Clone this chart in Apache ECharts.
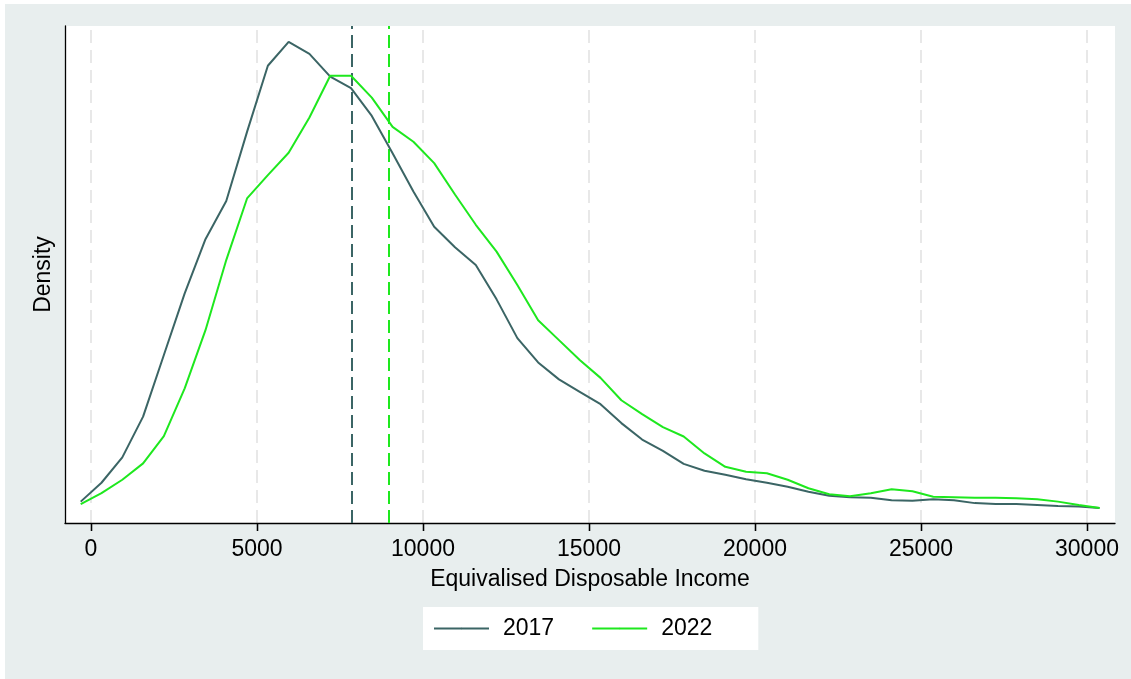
<!DOCTYPE html>
<html>
<head>
<meta charset="utf-8">
<script src="https://cdn.jsdelivr.net/npm/echarts@6/dist/echarts.min.js"></script>
<style>
  html, body { margin: 0; padding: 0; background: #ffffff; }
  #chart { position: absolute; left: 5px; top: 4px; width: 1126px; height: 675px; }
</style>
</head>
<body>
<div id="chart"></div>
<script>
// Income grid (x positions of the density estimate points)
const incomeGrid = [-310, 316, 943, 1569, 2195, 2822, 3448, 4074, 4700, 5327,
  5953, 6579, 7206, 7832, 8458, 9084, 9711, 10337, 10963, 11590,
  12216, 12842, 13468, 14095, 14721, 15347, 15974, 16600, 17226, 17852,
  18479, 19105, 19731, 20358, 20984, 21610, 22236, 22863, 23489, 24115,
  24742, 25368, 25994, 26620, 27247, 27873, 28499, 29126, 29752, 30378];

// Density values (arbitrary units)
const density2017 = [0.43, 0.81, 1.32, 2.14, 3.38, 4.62, 5.71, 6.48, 7.87, 9.20,
  9.68, 9.44, 8.98, 8.75, 8.19, 7.44, 6.67, 5.96, 5.55, 5.19,
  4.50, 3.72, 3.23, 2.89, 2.64, 2.39, 2.01, 1.68, 1.45, 1.19,
  1.05, 0.97, 0.88, 0.81, 0.73, 0.63, 0.55, 0.52, 0.51, 0.46,
  0.45, 0.48, 0.46, 0.40, 0.38, 0.38, 0.36, 0.34, 0.33, 0.30];

const density2022 = [0.38, 0.60, 0.87, 1.20, 1.75, 2.71, 3.88, 5.29, 6.53, 7.00,
  7.45, 8.16, 9.00, 9.00, 8.56, 7.97, 7.67, 7.24, 6.61, 6.00,
  5.46, 4.79, 4.08, 3.68, 3.28, 2.92, 2.47, 2.19, 1.93, 1.74,
  1.40, 1.13, 1.03, 1.00, 0.87, 0.70, 0.58, 0.54, 0.60, 0.68,
  0.64, 0.53, 0.52, 0.51, 0.51, 0.50, 0.48, 0.43, 0.36, 0.30];

const seriesNames = ['2017', '2022'];
const meanIncome = [7850, 8970];
const xTicks = [0, 5000, 10000, 15000, 20000, 25000, 30000];

const colors = ['#3B6565', '#1EE81E'];
const FONT = 'Liberation Sans, Arial, sans-serif';
const FS = 23;

function pairs(ys) { return incomeGrid.map((x, i) => [x, ys[i]]); }

const chart = echarts.init(document.getElementById('chart'), null, { renderer: 'canvas' });

const option = {
  animation: false,
  backgroundColor: '#E8EEEE',
  textStyle: { fontFamily: FONT },
  grid: {
    left: 60, top: 22, right: 16, bottom: 156,
    show: true, backgroundColor: '#ffffff', borderWidth: 0,
    containLabel: false
  },
  legend: {
    data: seriesNames,
    left: 418, top: 603,
    orient: 'horizontal',
    backgroundColor: '#ffffff',
    padding: [10, 46, 10, 10],
    itemGap: 37,
    itemWidth: 55,
    itemHeight: 2,
    textStyle: { fontSize: FS, color: '#000', padding: [0, 0, 0, 9], fontFamily: FONT }
  },
  xAxis: {
    type: 'value',
    min: -783, max: 30843,
    name: 'Equivalised Disposable Income',
    nameLocation: 'middle',
    nameGap: 45,
    nameTextStyle: { fontSize: FS, color: '#000' },
    axisLine: { show: true, onZero: false, lineStyle: { color: '#000', width: 1.3 } },
    axisTick: { show: true, length: 8, customValues: xTicks, lineStyle: { color: '#000', width: 1.3 } },
    axisLabel: { show: true, customValues: xTicks, margin: 15, fontSize: FS, color: '#000', formatter: v => String(v) },
    splitLine: { show: false }
  },
  yAxis: {
    type: 'value',
    min: 0, max: 10,
    name: 'Density',
    nameLocation: 'middle',
    nameRotate: 90,
    nameGap: 10,
    nameTextStyle: { fontSize: FS, color: '#000' },
    axisLine: { show: true, onZero: false, lineStyle: { color: '#000', width: 1.3 } },
    axisTick: { show: false },
    axisLabel: { show: false },
    splitLine: { show: false }
  },
  series: [
    {
      name: 'gridlines',
      type: 'line',
      data: [],
      z: 0,
      silent: true,
      markLine: {
        silent: true,
        z: 0,
        symbol: ['none', 'none'],
        label: { show: false },
        lineStyle: { color: '#E8E8E8', width: 2, type: [13, 7] },
        data: xTicks.map(v => ({ xAxis: v }))
      }
    },
    {
      name: seriesNames[0],
      type: 'line',
      data: pairs(density2017),
      symbol: 'none',
      legendIcon: 'rect',
      z: 5,
      lineStyle: { color: colors[0], width: 2 },
      itemStyle: { color: colors[0] },
      markLine: {
        silent: true,
        symbol: ['none', 'none'],
        label: { show: false },
        lineStyle: { color: colors[0], width: 2, type: [13, 6] },
        data: [{ xAxis: meanIncome[0] }]
      }
    },
    {
      name: seriesNames[1],
      type: 'line',
      data: pairs(density2022),
      symbol: 'none',
      legendIcon: 'rect',
      z: 6,
      lineStyle: { color: colors[1], width: 2 },
      itemStyle: { color: colors[1] },
      markLine: {
        silent: true,
        symbol: ['none', 'none'],
        label: { show: false },
        lineStyle: { color: colors[1], width: 2, type: [13, 6] },
        data: [{ xAxis: meanIncome[1] }]
      }
    }
  ]
};

chart.setOption(option);

// Tick marks placed through the library's own x scale
const axisY = chart.convertToPixel({ yAxisIndex: 0 }, 0);
chart.setOption({
  graphic: xTicks.map(v => {
    const px = Math.round(chart.convertToPixel({ xAxisIndex: 0 }, v)) + 0.5;
    return {
      type: 'line', silent: true, z: 10,
      shape: { x1: px, y1: axisY, x2: px, y2: axisY + 8 },
      style: { stroke: '#000', lineWidth: 1.3 }
    };
  })
});
</script>
</body>
</html>
